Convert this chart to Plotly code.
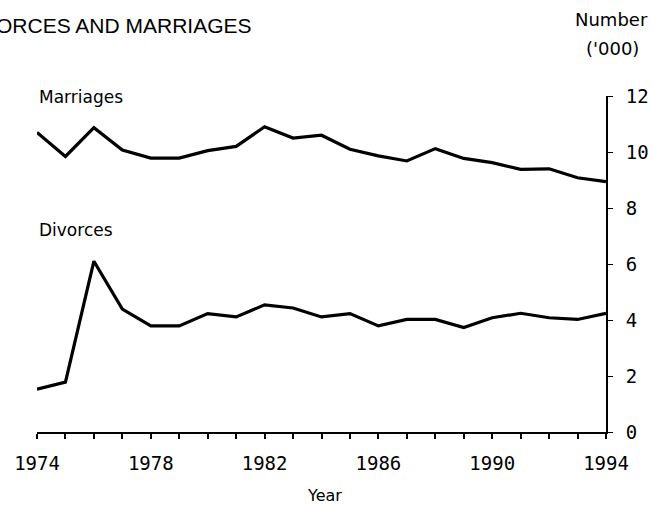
import plotly.graph_objects as go

years = list(range(1974, 1995))
marriages = [10.7, 9.84, 10.87, 10.07, 9.78, 9.78, 10.05, 10.2, 10.9, 10.5, 10.6,
             10.1, 9.86, 9.68, 10.12, 9.77, 9.62, 9.38, 9.4, 9.08, 8.94]
divorces = [1.53, 1.78, 6.1, 4.39, 3.79, 3.79, 4.23, 4.11, 4.54, 4.43, 4.11,
            4.23, 3.79, 4.02, 4.02, 3.73, 4.08, 4.24, 4.08, 4.02, 4.24]
y_ticks = [0, 2, 4, 6, 8, 10, 12]
x_ticks = [1974, 1978, 1982, 1986, 1990, 1994]

W, H = 651, 506
L, R, T, B = 37, 45, 96, 74
PW, PH = W - L - R, H - T - B


def px(x):
    return (x - L) / PW


def py(y):
    return (H - B - y) / PH


fig = go.Figure()
for vals in (marriages, divorces):
    fig.add_trace(go.Scatter(x=years, y=vals, mode="lines",
                             line=dict(color="black", width=3.2),
                             showlegend=False, hoverinfo="skip"))

tick_font = dict(family="DejaVu Sans Mono", size=19, color="black")
txt_font = "DejaVu Sans"

fig.update_layout(
    width=W, height=H,
    margin=dict(l=L, r=R, t=T, b=B, pad=0, autoexpand=False),
    paper_bgcolor="white", plot_bgcolor="white",
    xaxis=dict(range=[1974, 1994], tickvals=x_ticks, ticks="outside", ticklen=5,
               tickwidth=2, tickcolor="black", showline=True, linecolor="black",
               linewidth=2, showgrid=False, zeroline=False, tickfont=tick_font,
               ticklabelstandoff=8, automargin=False,
               minor=dict(dtick=1, tick0=1974, ticks="outside", ticklen=5,
                          tickwidth=2, tickcolor="black", showgrid=False)),
    yaxis=dict(range=[0, 12], tickvals=y_ticks, side="right", ticks="outside",
               ticklen=5, tickwidth=1, tickcolor="black", showline=True,
               linecolor="black", linewidth=2, showgrid=False, zeroline=False,
               tickfont=tick_font, ticklabelstandoff=9, automargin=False),
    annotations=[
        dict(text="DIVORCES AND MARRIAGES", x=px(254), y=py(25), xref="paper",
             yref="paper", xanchor="right", yanchor="middle", showarrow=False,
             font=dict(family="Liberation Sans", size=21, color="black")),
        dict(text="Number", x=px(611), y=py(20), xref="paper", yref="paper",
             xanchor="center", yanchor="middle", showarrow=False,
             font=dict(family=txt_font, size=18, color="black")),
        dict(text="('000)", x=px(612), y=py(48), xref="paper", yref="paper",
             xanchor="center", yanchor="middle", showarrow=False,
             font=dict(family=txt_font, size=18, color="black")),
        dict(text="Marriages", x=px(37), y=py(97), xref="paper", yref="paper",
             xanchor="left", yanchor="middle", showarrow=False,
             font=dict(family=txt_font, size=17, color="black")),
        dict(text="Divorces", x=px(37), y=py(230), xref="paper", yref="paper",
             xanchor="left", yanchor="middle", showarrow=False,
             font=dict(family=txt_font, size=17, color="black")),
        dict(text="Year", x=px(324), y=py(495), xref="paper", yref="paper",
             xanchor="center", yanchor="middle", showarrow=False,
             font=dict(family=txt_font, size=16, color="black")),
    ],
)

fig.write_html("out.html", config={"displayModeBar": False},
               post_script="document.body.style.margin='0';")
